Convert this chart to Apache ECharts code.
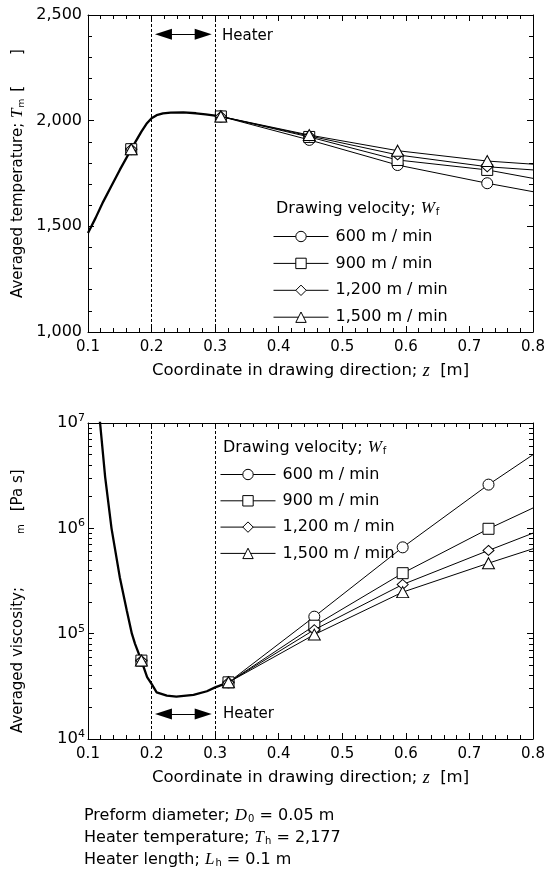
<!DOCTYPE html>
<html>
<head>
<meta charset="utf-8">
<script src="https://cdn.jsdelivr.net/npm/echarts@6/dist/echarts.min.js"></script>
<style>
  html, body { margin: 0; padding: 0; background: #fff; }
  #main { width: 549px; height: 872px; }
</style>
</head>
<body>
<div id="main"></div>
<script>
// ---- data ----
// upper panel: averaged temperature, shared curve up to the heater exit
var zTempShared = [0.1, 0.112, 0.124, 0.137, 0.15, 0.168, 0.184, 0.192, 0.2, 0.208, 0.218, 0.23, 0.25, 0.27, 0.285, 0.3, 0.309];
var tempShared  = [1468, 1540, 1617, 1692, 1767, 1865, 1948, 1985, 2011, 2026, 2034, 2038, 2039, 2035, 2030, 2024, 2020];
var zTempMarks  = [0.168, 0.309];
var zTempTail   = [0.448, 0.587, 0.728, 0.8];
var temp600  = [1909, 1790, 1704, 1664];
var temp900  = [1923, 1814, 1767, 1727];
var temp1200 = [1928, 1838, 1782, 1767];
var temp1500 = [1932, 1858, 1809, 1794];

// lower panel: averaged viscosity (log scale)
var zViscShared = [0.112, 0.119, 0.127, 0.137, 0.15, 0.161, 0.169, 0.174, 0.184, 0.193, 0.2, 0.208, 0.224, 0.239, 0.266, 0.287, 0.3, 0.321];
var viscShared  = [2.4e7, 1.0e7, 3.07e6, 1.0e6, 3.44e5, 1.66e5, 1.0e5, 8.0e4, 5.55e4, 3.86e4, 3.33e4, 2.77e4, 2.58e4, 2.52e4, 2.62e4, 2.84e4, 3.09e4, 3.45e4];
var zViscMarks  = [0.184, 0.321];
var zViscTail   = [0.456, 0.595, 0.73, 0.8];
var visc600  = [1.45e5, 6.6e5, 2.6e6, 5.0e6];
var visc900  = [1.19e5, 3.75e5, 9.9e5, 1.56e6];
var visc1200 = [1.09e5, 2.93e5, 6.17e5, 9.0e5];
var visc1500 = [9.8e4, 2.48e5, 4.67e5, 6.4e5];

var velocities = ['600 m / min', '900 m / min', '1,200 m / min', '1,500 m / min'];
var symbols = ['circle', 'rect', 'diamond', 'triangle'];
var heaterZ = [0.2, 0.3];

// log-axis minor ticks: 2..9 within each decade
var minorMantissa = [2, 3, 4, 5, 6, 7, 8, 9];
var decades = [1e4, 1e5, 1e6];

var FONT = '"DejaVu Sans", sans-serif';
var SERIF = '"Liberation Serif", "Times New Roman", serif';

var myChart = echarts.init(document.getElementById('main'));

function pick(zs, vs, z) {
    return vs[zs.indexOf(z)];
}

// markers on the shared curve, then the velocity-specific tail
function velData(zs, vs, marks, tailZ, tail) {
    var out = [];
    marks.forEach(function (z, i) {
        if (i > 0) out.push('-');
        out.push([z, pick(zs, vs, z)]);
    });
    tailZ.forEach(function (z, i) {
        if (i === tailZ.length - 1) out.push({ value: [z, tail[i]], symbol: 'none' });
        else out.push([z, tail[i]]);
    });
    return out;
}

var BLACK = { color: '#000', width: 1 };

function xAx(grid, pos, showLabel) {
    return {
        type: 'value', gridIndex: grid, position: pos, offset: 0,
        min: 0.1, max: 0.8, interval: 0.1,
        axisLine: { show: true, lineStyle: BLACK },
        axisTick: { show: true, inside: true, length: 6, lineStyle: BLACK },
        splitLine: { show: false },
        axisLabel: {
            show: showLabel, color: '#000', fontFamily: FONT, fontSize: 15, margin: 8,
            formatter: function (v) { return v.toFixed(1); }
        },
        name: showLabel ? 'Coordinate in drawing direction; {i|z}  [m]' : '',
        nameLocation: 'middle', nameGap: 30,
        nameTextStyle: {
            color: '#000', fontFamily: FONT, fontSize: 16.5,
            rich: { i: { fontFamily: SERIF, fontStyle: 'italic', fontSize: 18, color: '#000' } }
        }
    };
}

// axis used only for its short minor ticks (line kept but transparent, ticks need it)
function minorAx(type, grid, pos, extra) {
    return Object.assign({
        type: type, gridIndex: grid, position: pos, offset: 0,
        axisLine: { show: true, lineStyle: { color: 'rgba(0,0,0,0)' } },
        axisTick: { show: true, inside: true, length: 4, lineStyle: BLACK },
        axisLabel: { show: false },
        splitLine: { show: false },
        silent: true
    }, extra);
}

function yLin(pos) {
    return {
        type: 'value', gridIndex: 0, position: pos, offset: 0,
        min: 1000, max: 2500, interval: 500,
        axisLine: { show: true, lineStyle: BLACK },
        axisTick: { show: true, inside: true, length: 6, lineStyle: BLACK },
        splitLine: { show: false },
        axisLabel: {
            show: pos === 'left', color: '#000', fontFamily: FONT, fontSize: 16, margin: 6,
            formatter: function (v) { return String(v).replace(/(\d)(\d{3})$/, '$1,$2'); }
        }
    };
}

function yLog(pos) {
    return {
        type: 'log', logBase: 10, gridIndex: 1, position: pos, offset: 0,
        min: 1e4, max: 1e7,
        axisLine: { show: true, lineStyle: BLACK },
        axisTick: { show: true, inside: true, length: 6, lineStyle: BLACK },
        splitLine: { show: false },
        axisLabel: {
            show: pos === 'left', color: '#000', fontFamily: FONT, fontSize: 16.5, margin: 3,
            formatter: function (v) { return '10{sup|' + Math.round(Math.log10(v)) + '}'; },
            rich: { sup: { fontFamily: FONT, fontSize: 11, color: '#000', padding: [0, 0, 10, 0] } }
        }
    };
}

var viscMinor = [];
decades.forEach(function (d) {
    minorMantissa.forEach(function (m) { viscMinor.push(m * d); });
});

var zMinorExtra = { min: 0.1, max: 0.8, interval: 0.02 };
var tMinorExtra = { min: 1000, max: 2500, interval: 100 };
var vMinorExtra = { logBase: 10, min: 1e4, max: 1e7, axisTick: { show: true, inside: true, length: 4, lineStyle: BLACK, customValues: viscMinor } };

var legendBase = {
    data: velocities, orient: 'vertical', padding: 0,
    itemWidth: 55, itemHeight: 13,
    textStyle: { color: '#000', fontFamily: FONT, fontSize: 16, lineHeight: 13, padding: [0, 0, 0, 2] },
    lineStyle: { width: 1, color: '#000' },
    itemStyle: { color: '#fff', borderColor: '#000', borderWidth: 1 },
    selectedMode: false
};

var option = {
    animation: false,
    backgroundColor: '#fff',
    textStyle: { fontFamily: FONT },
    grid: [
        { left: 88, right: 16, top: 15, height: 317 },
        { left: 88, right: 16, top: 423, height: 316 }
    ],
    xAxis: [
        xAx(0, 'bottom', true), xAx(0, 'top', false), xAx(1, 'bottom', true), xAx(1, 'top', false),
        minorAx('value', 0, 'bottom', zMinorExtra), minorAx('value', 0, 'top', zMinorExtra),
        minorAx('value', 1, 'bottom', zMinorExtra), minorAx('value', 1, 'top', zMinorExtra)
    ],
    yAxis: [
        yLin('left'), yLin('right'), yLog('left'), yLog('right'),
        minorAx('value', 0, 'left', tMinorExtra), minorAx('value', 0, 'right', tMinorExtra),
        minorAx('log', 1, 'left', vMinorExtra), minorAx('log', 1, 'right', vMinorExtra)
    ],
    legend: [
        Object.assign({}, legendBase, { left: 273, top: 228.5, itemGap: 10.9 }),
        Object.assign({}, legendBase, { left: 220, top: 466.5, itemGap: 10.3 })
    ],
    series: []
};

function heaterMarks(arrowY) {
    return {
        silent: true, symbol: ['none', 'none'], animation: false,
        label: { show: false },
        lineStyle: { color: '#000', type: [3, 2], width: 1 },
        data: [
            { xAxis: heaterZ[0] },
            { xAxis: heaterZ[1] },
            [
                { coord: [0.2187, arrowY], symbol: 'triangle', symbolSize: [11, 17], lineStyle: { type: 'solid', width: 1.2 } },
                { coord: [0.2812, arrowY], symbol: 'triangle', symbolSize: [11, 17] }
            ]
        ]
    };
}

// shared (thick) curves
option.series.push({
    type: 'line', xAxisIndex: 0, yAxisIndex: 0, name: 'sharedT',
    data: zTempShared.map(function (z, i) { return [z, tempShared[i]]; }),
    showSymbol: false, symbol: 'none',
    lineStyle: { color: '#000', width: 2.3 },
    markLine: heaterMarks(2409),
    z: 1
});
option.series.push({
    type: 'line', xAxisIndex: 2, yAxisIndex: 2, name: 'sharedV',
    data: zViscShared.map(function (z, i) { return [z, viscShared[i]]; }),
    showSymbol: false, symbol: 'none',
    lineStyle: { color: '#000', width: 2.3 },
    markLine: heaterMarks(1.73e4),
    z: 1
});

var tempTails = [temp600, temp900, temp1200, temp1500];
var viscTails = [visc600, visc900, visc1200, visc1500];
var symSizes = [11, 11, [11, 10], [12, 11]];

velocities.forEach(function (name, k) {
    var common = {
        type: 'line', name: name,
        symbol: symbols[k], symbolSize: symSizes[k], showSymbol: true,
        lineStyle: { color: '#000', width: 1 },
        itemStyle: { color: '#fff', borderColor: '#000', borderWidth: 1 },
        connectNulls: false, z: 3 + k
    };
    option.series.push(Object.assign({}, common, {
        xAxisIndex: 0, yAxisIndex: 0,
        data: velData(zTempShared, tempShared, zTempMarks, zTempTail, tempTails[k])
    }));
    option.series.push(Object.assign({}, common, {
        xAxisIndex: 2, yAxisIndex: 2,
        data: velData(zViscShared, viscShared, zViscMarks, zViscTail, viscTails[k])
    }));
});

var richBase = {
    i: { fontFamily: SERIF, fontStyle: 'italic', fontSize: 17, fill: '#000' },
    s: { fontFamily: FONT, fontSize: 10, fill: '#000', padding: [7, 0, 0, 1] }
};
function txt(x, y, text, size) {
    return {
        type: 'text', x: x, y: y, silent: true,
        style: {
            text: text, fontFamily: FONT, fontSize: size || 16, fill: '#000',
            align: 'left', verticalAlign: 'middle', rich: richBase
        }
    };
}
function vtxt(x, y, text, rich) {
    return {
        type: 'text', x: x, y: y, rotation: Math.PI / 2, silent: true,
        style: {
            text: text, fontFamily: FONT, fontSize: 15, fill: '#000',
            align: 'left', verticalAlign: 'middle', rich: rich
        }
    };
}

option.graphic = [
    txt(222, 36.5, 'Heater', 15),
    txt(223, 714, 'Heater', 15),
    txt(276, 209, 'Drawing velocity; {i|W}{s|f}'),
    txt(223, 448, 'Drawing velocity; {i|W}{s|f}'),
    txt(84, 816, 'Preform diameter; {i|D}{s|0} = 0.05 m'),
    txt(84, 838, 'Heater temperature; {i|T}{s|h} = 2,177'),
    txt(84, 860, 'Heater length; {i|L}{s|h} = 0.1 m'),
    vtxt(18, 298, 'Averaged temperature; {i|T}{s|m}{b1|[}{b2|]}', {
        i: { fontFamily: SERIF, fontStyle: 'italic', fontSize: 17, fill: '#000' },
        s: { fontFamily: FONT, fontSize: 9, fill: '#000', padding: [7, 0, 0, 1] },
        b1: { fontFamily: FONT, fontSize: 15, fill: '#000', padding: [0, 0, 0, 7] },
        b2: { fontFamily: FONT, fontSize: 15, fill: '#000', padding: [0, 0, 0, 31] }
    }),
    vtxt(18, 733, 'Averaged viscosity;{s|m}{b|[Pa s]}', {
        s: { fontFamily: FONT, fontSize: 10, fill: '#000', padding: [6, 0, 0, 53] },
        b: { fontFamily: FONT, fontSize: 15, fill: '#000', padding: [0, 0, 0, 13] }
    })
];

myChart.setOption(option);
</script>
</body>
</html>
